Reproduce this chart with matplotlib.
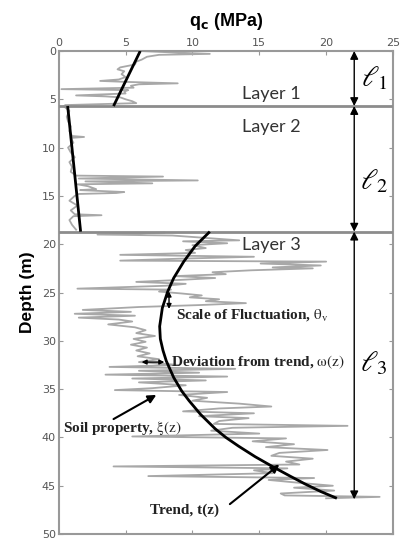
import matplotlib
matplotlib.use("Agg")
import matplotlib.pyplot as plt

plt.rcParams['mathtext.fontset'] = 'stix'

# ---- data ----
xticks = [0, 5, 10, 15, 20, 25]
yticks = [0, 5, 10, 15, 20, 25, 30, 35, 40, 45, 50]
layer_bounds = [5.7, 18.7]
layer_ends = [0.0, 5.7, 18.7, 46.4]
layer_names = ["Layer 1", "Layer 2", "Layer 3"]
layer_label_depths = [4.5, 7.9, 20.1]
ell_labels = [r"$\ell_1$", r"$\ell_2$", r"$\ell_3$"]
ell_depths = [2.8, 13.5, 32.3]

# Layer 1 CPT trace
d1 = [0.0, 0.15, 0.3, 0.4, 0.6, 0.9, 1.1, 1.4, 1.7, 1.9, 2.1, 2.4, 2.7, 2.95, 3.1, 3.2,
      3.35, 3.45, 3.6, 3.8, 3.95, 4.05, 4.2, 4.4, 4.6, 4.7, 4.8, 5.0, 5.2, 5.4, 5.6]
q1 = [6.0, 8.5, 11.3, 7.5, 6.6, 6.2, 5.8, 5.7, 4.6, 4.4, 4.9, 4.7, 5.0, 4.5, 3.1, 5.0,
      8.9, 6.0, 5.4, 5.6, 0.2, 5.2, 4.9, 5.0, 1.3, 3.5, 4.6, 5.0, 5.5, 5.8, 0.5]

# Layer 2 CPT trace
d2 = [5.75, 6.2, 6.8, 7.3, 7.8, 8.3, 8.8, 8.9, 9.0, 9.5, 10.0, 10.5, 11.0, 11.5, 12.0,
      12.5, 12.9, 13.0, 13.2, 13.4, 13.5, 13.7, 13.8, 14.0, 14.3, 14.4, 14.6, 14.7, 14.8,
      15.0, 15.5, 16.0, 16.5, 16.9, 17.0, 17.1, 17.5, 18.0, 18.5]
q2 = [0.4, 0.8, 0.6, 0.7, 0.9, 0.8, 1.0, 1.9, 0.9, 1.1, 0.7, 0.9, 1.2, 0.8, 1.0,
      0.9, 1.3, 7.8, 1.5, 10.4, 2.0, 7.0, 1.4, 2.2, 2.8, 1.6, 4.9, 4.3, 1.5,
      1.2, 0.8, 1.4, 0.9, 1.2, 3.2, 1.1, 0.8, 1.0, 1.3]

# Layer 3 CPT trace
d3 = [18.8, 19.0, 19.1, 19.3, 19.6, 19.7, 19.9, 20.1, 20.4, 20.6, 20.9, 21.1, 21.3, 21.5,
      21.7, 21.8, 22.0, 22.2, 22.4, 22.5, 22.7, 22.9, 23.1, 23.3, 23.5, 23.7, 23.9, 24.1,
      24.3, 24.6, 24.7, 24.9, 25.1, 25.3, 25.5, 25.7, 25.9, 26.1, 26.3, 26.5, 26.8, 27.0,
      27.2, 27.4, 27.6, 27.8, 28.0, 28.3, 28.6, 28.9, 29.2, 29.5, 29.8, 30.1, 30.4, 30.7,
      31.0, 31.3, 31.6, 31.9, 32.2, 32.5, 32.7, 32.9, 33.1, 33.3, 33.5, 33.7, 33.9, 34.1,
      34.3, 34.6, 34.9, 35.1, 35.3, 35.6, 35.9, 36.2, 36.5, 36.8, 37.0, 37.3, 37.5, 37.8,
      38.0, 38.3, 38.6, 38.8, 39.0, 39.3, 39.6, 39.9, 40.1, 40.4, 40.7, 41.0, 41.3, 41.6,
      41.9, 42.2, 42.5, 42.8, 43.0, 43.2, 43.4, 43.7, 44.0, 44.2, 44.4, 44.7, 45.0, 45.2,
      45.5, 45.8, 46.0, 46.15, 46.3]
q3 = [7.9, 2.9, 8.5, 10.5, 13.5, 9.3, 12.6, 10.0, 11.0, 9.5, 10.2, 4.6, 14.6, 9.0,
      4.6, 20.0, 15.1, 19.6, 16.0, 19.0, 14.4, 11.5, 12.5, 8.7, 11.7, 9.0, 5.8, 9.5,
      8.0, 1.4, 8.4, 7.5, 9.2, 10.7, 9.8, 12.0, 11.0, 14.0, 10.5, 6.0, 1.8, 5.4,
      1.2, 5.7, 1.5, 4.5, 5.5, 3.7, 5.7, 6.5, 5.8, 7.2, 5.6, 6.5, 5.4, 6.6,
      5.8, 6.8, 5.9, 7.5, 6.0, 9.0, 3.8, 13.2, 6.0, 10.5, 3.5, 12.6, 5.5, 11.0,
      6.0, 9.5, 7.0, 4.2, 12.6, 9.0, 11.1, 10.0, 13.5, 15.9, 12.0, 9.3, 14.6, 10.5,
      14.2, 12.0, 11.6, 21.6, 13.0, 11.4, 15.0, 5.5, 17.0, 14.5, 17.6, 15.5, 20.1, 16.5,
      15.9, 19.0, 17.0, 18.0, 4.1, 17.1, 14.6, 16.0, 6.7, 19.1, 15.7, 18.0, 20.5, 17.6,
      20.6, 16.6, 16.9, 24.0, 20.0]

# Trends
t1_d = [0.0, 5.7]
t1_q = [6.1, 4.1]
t2_d = [5.7, 18.7]
t2_q = [0.67, 1.64]
t3_d = [18.7, 20.2, 21.8, 23.5, 24.9, 26.6, 28.5, 29.8, 31.0, 32.1, 33.8, 35.2, 36.2,
        37.6, 39.1, 40.0, 40.9, 42.0, 43.1, 44.0, 44.8, 45.6, 46.3]
t3_q = [11.3, 10.2, 9.35, 8.6, 8.15, 7.75, 7.55, 7.6, 7.8, 8.05, 8.6, 9.2, 9.75,
        10.6, 11.7, 12.5, 13.45, 14.7, 16.1, 17.3, 18.4, 19.6, 20.8]

assert len(d1) == len(q1) and len(d2) == len(q2) and len(d3) == len(q3)

# ---- figure ----
fig = plt.figure(figsize=(4.04, 5.40), dpi=100)
ax = fig.add_axes([0.1453, 0.011, 0.8275, 0.8946])

gray = "#a8a8a8"
for d, q in [(d1, q1), (d2, q2), (d3, q3)]:
    ax.plot(q, d, color=gray, lw=1.3, zorder=2)

for d, q in [(t1_d, t1_q), (t2_d, t2_q), (t3_d, t3_q)]:
    ax.plot(q, d, color="black", lw=2.0, zorder=4, solid_capstyle="butt",
            solid_joinstyle="round")

for b in layer_bounds:
    ax.axhline(b, color="#8c8c8c", lw=2.0, zorder=3)

ax.set_xlim(0, 25)
ax.set_ylim(50, 0)
ax.set_xticks(xticks)
ax.set_yticks(yticks)
ax.xaxis.tick_top()
ax.tick_params(axis="both", which="both", direction="in", length=3, colors="#999999",
               labelcolor="#555555", labelsize=8, top=True, bottom=True, left=True, right=True,
               labeltop=True, labelbottom=False, pad=2)
for s in ax.spines.values():
    s.set_color("#999999")
    s.set_linewidth(1.5)

ax.set_xlabel(r"q$_\mathbf{c}$ (MPa)", fontsize=13, fontweight="bold",
              family="Liberation Sans", math_fontfamily="dejavusans", labelpad=9)
ax.xaxis.set_label_position("top")
ax.set_ylabel("Depth (m)", fontsize=12.5, fontweight="bold", family="Liberation Sans",
              labelpad=5)

# layer names
for name, dd in zip(layer_names, layer_label_depths):
    ax.text(15.9, dd, name, fontsize=13, family="Lato", color="#333333",
            ha="center", va="center", zorder=5)

# ell arrows
xa = 22.1
for i in range(3):
    ax.annotate("", xy=(xa, layer_ends[i]), xytext=(xa, layer_ends[i + 1]),
                arrowprops=dict(arrowstyle="<|-|>", color="black", lw=1.0,
                                mutation_scale=12, shrinkA=0, shrinkB=0), zorder=6)
    ax.text(23.6, ell_depths[i], ell_labels[i], fontsize=21, ha="center", va="center",
            color="black", zorder=6)

# annotations
ser = dict(family="Liberation Serif", fontweight="bold", fontsize=11, color="#222222")
ax.text(8.8, 27.3, r"Scale of Fluctuation, $\mathrm{\theta_v}$", ha="left", va="center", **ser)
ax.annotate("", xy=(8.25, 24.9), xytext=(8.25, 26.7),
            arrowprops=dict(arrowstyle="<|-|>", color="black", lw=1.0,
                            mutation_scale=7, shrinkA=0, shrinkB=0))
ax.text(8.4, 32.2, r"Deviation from trend, $\mathrm{\omega(z)}$", ha="left", va="center", **ser)
ax.annotate("", xy=(6.2, 32.2), xytext=(7.9, 32.2),
            arrowprops=dict(arrowstyle="<|-|>", color="black", lw=1.0,
                            mutation_scale=7, shrinkA=0, shrinkB=0))
ax.text(0.3, 39.0, r"Soil property, $\mathrm{\xi(z)}$", ha="left", va="center", **ser)
ax.annotate("", xy=(7.3, 35.6), xytext=(4.1, 38.1),
            arrowprops=dict(arrowstyle="-|>", color="black", lw=1.5,
                            mutation_scale=12, shrinkA=0, shrinkB=0))
ax.text(6.8, 47.5, r"Trend, t(z)", ha="left", va="center", **ser)
ax.annotate("", xy=(16.5, 42.8), xytext=(12.8, 46.9),
            arrowprops=dict(arrowstyle="-|>", color="black", lw=1.5,
                            mutation_scale=12, shrinkA=0, shrinkB=0))

fig.savefig("out.png", dpi=100)
